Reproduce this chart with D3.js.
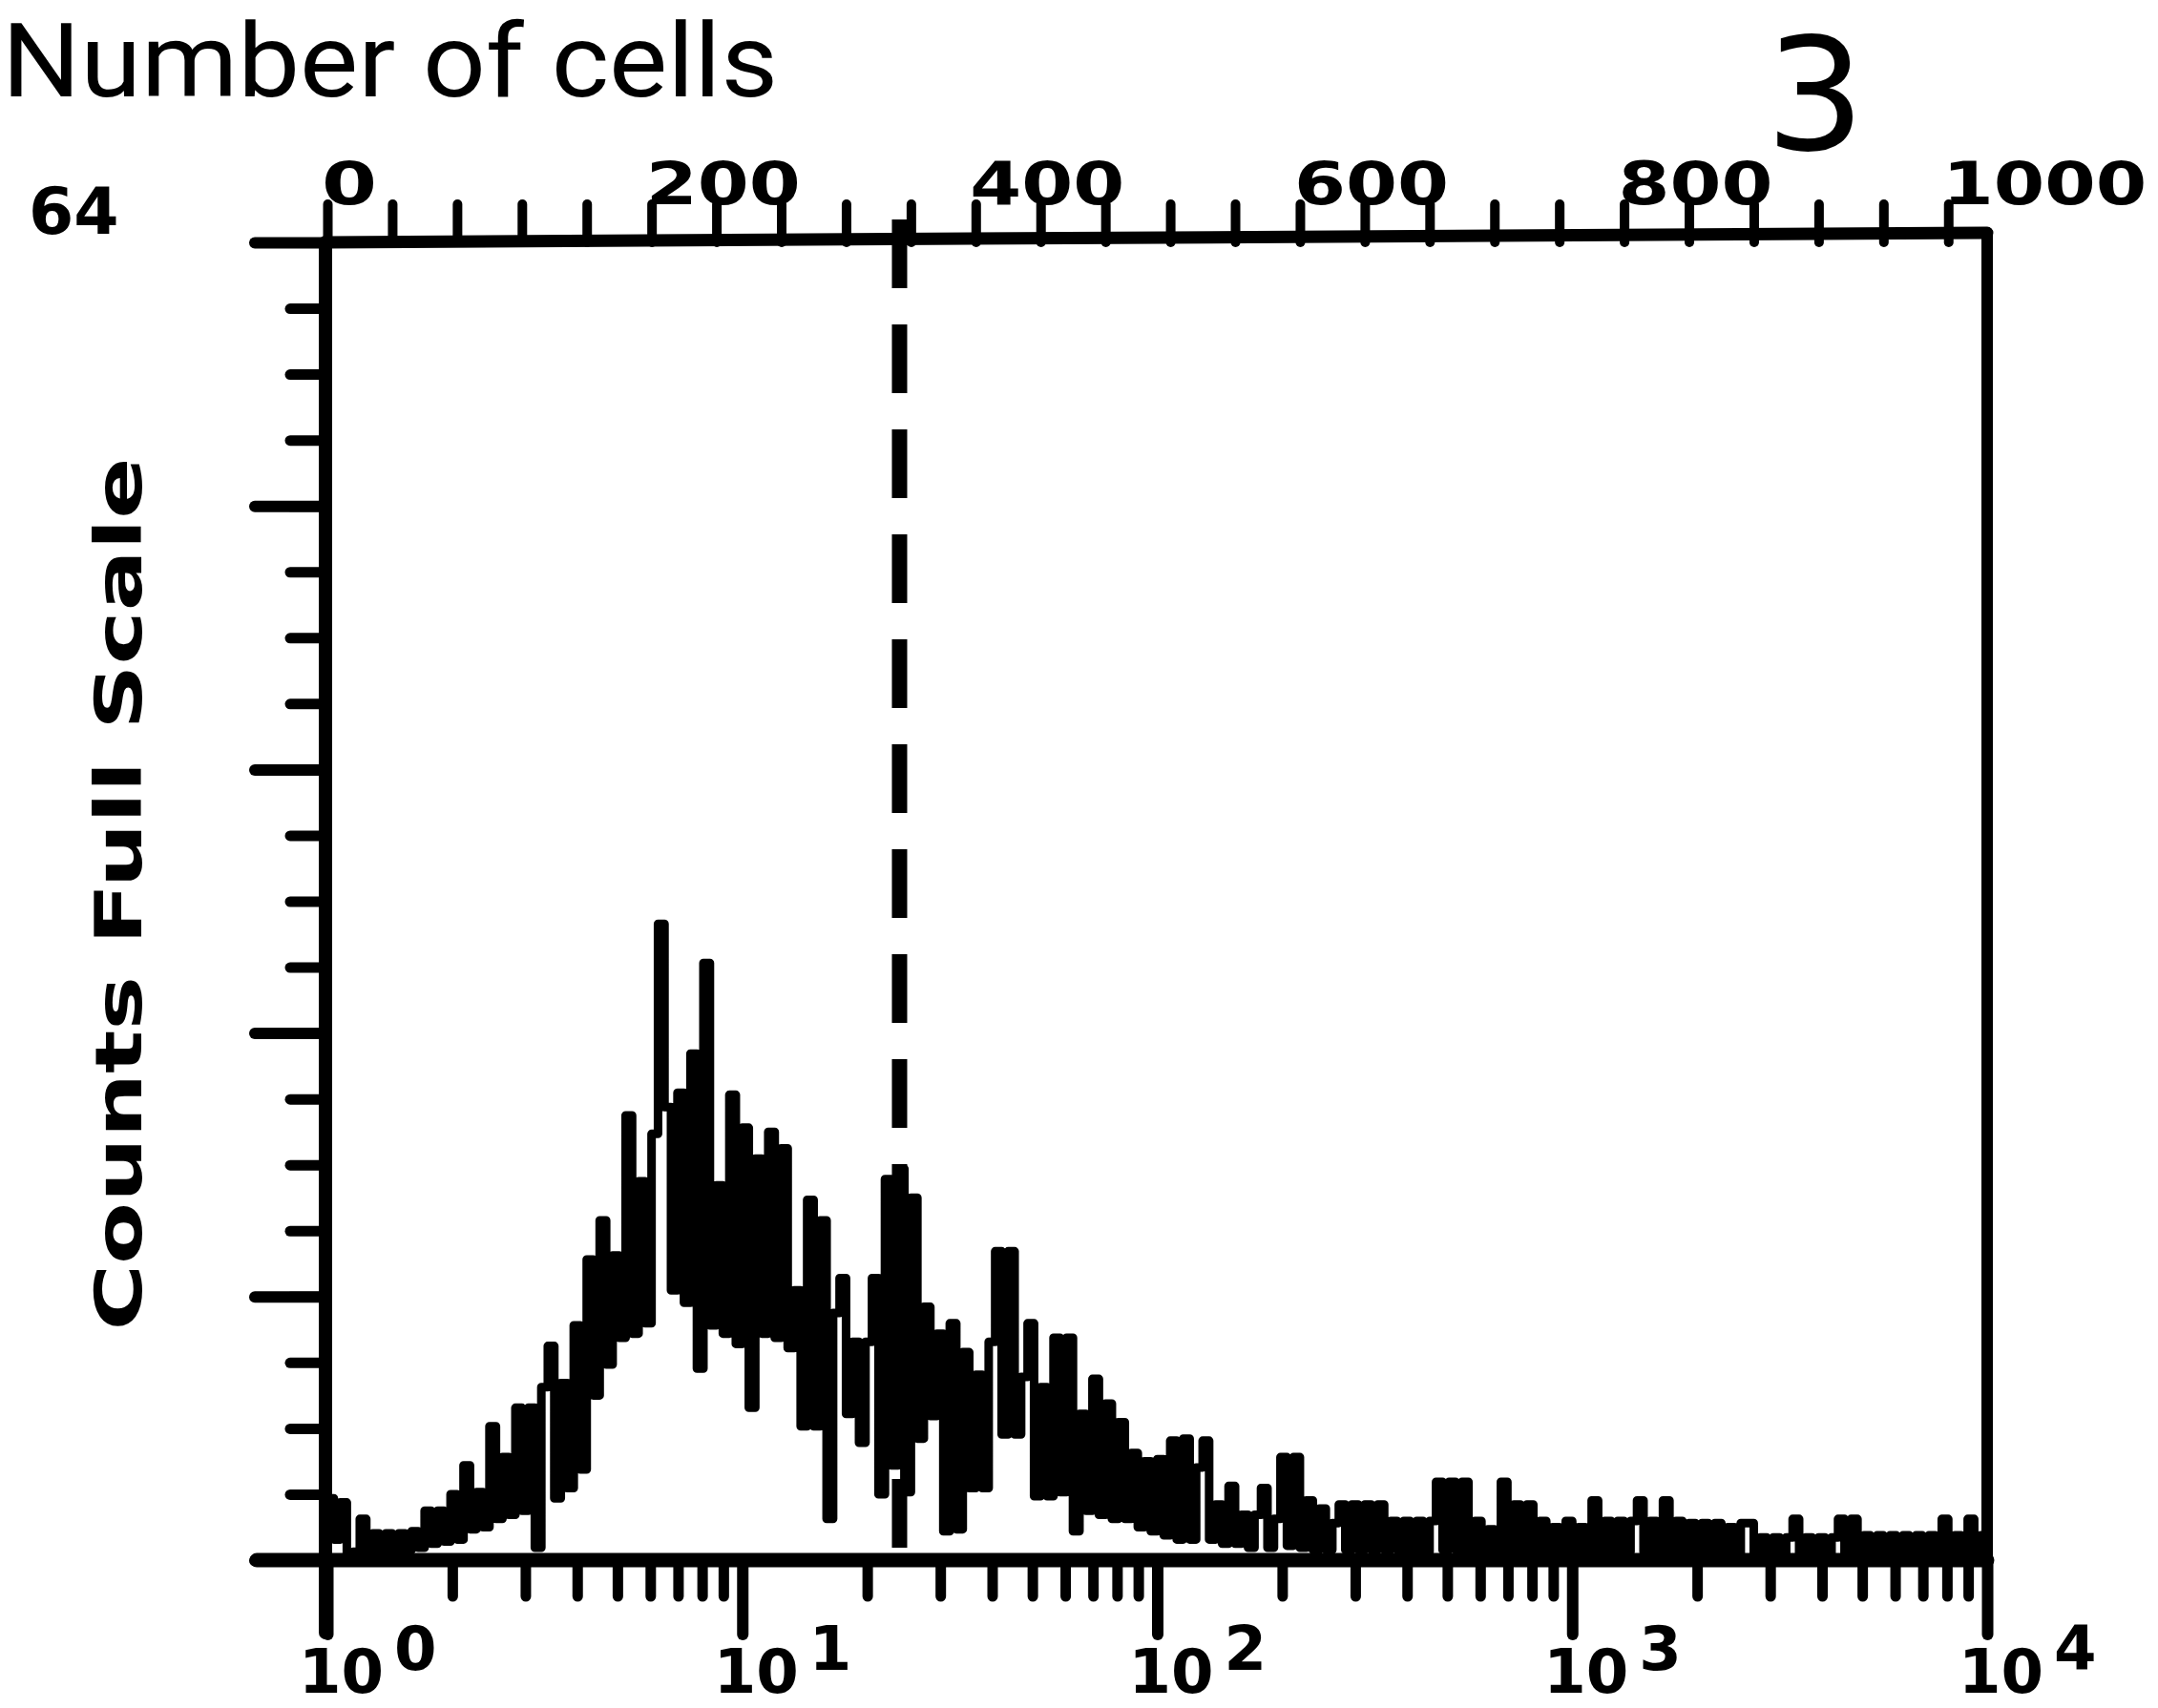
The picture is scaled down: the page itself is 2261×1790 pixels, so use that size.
<!DOCTYPE html>
<html>
<head>
<meta charset="utf-8">
<script src="https://cdn.jsdelivr.net/npm/d3@7"></script>
<style>
  html, body { margin: 0; padding: 0; background: #fff; }
  svg { display: block; }
</style>
</head>
<body>
<svg id="chart" width="2261" height="1790"></svg>
<script>
// counts per channel bin (one value every 4 channels, channel 0 .. 1020)
const channelStep = 4;
const counts = [
  3.0, 1.0, 2.8, 0.3, 0.4, 2.0, 0.4, 1.3, 0.4, 1.3,
  0.4, 1.3, 0.5, 1.4, 0.6, 2.4, 0.8, 2.4, 0.9, 3.2,
  1.0, 4.6, 1.5, 3.3, 1.6, 6.5, 2.0, 5.0, 2.2, 7.4,
  2.4, 7.4, 0.6, 8.4, 10.4, 3.0, 8.6, 3.5, 11.4, 4.4,
  14.6, 8.0, 16.5, 9.5, 14.8, 10.8, 21.6, 11.0, 18.4, 11.5,
  20.7, 30.9, 22.0, 13.1, 22.7, 12.5, 24.6, 9.3, 29.0, 11.4,
  18.2, 11.0, 22.6, 10.5, 21.0, 7.4, 19.5, 11.0, 20.8, 10.8,
  20.0, 10.3, 13.1, 6.5, 17.5, 6.5, 16.5, 2.0, 12.0, 13.7,
  7.1, 10.6, 5.7, 10.6, 13.7, 3.2, 18.5, 4.6, 19.0, 3.3,
  17.6, 5.9, 12.3, 7.0, 11.0, 1.4, 11.5, 1.5, 10.1, 3.5,
  9.0, 3.5, 10.6, 15.0, 6.1, 15.0, 6.1, 8.9, 11.5, 3.1,
  8.4, 3.1, 10.8, 3.3, 10.8, 1.4, 7.1, 2.4, 8.8, 2.2,
  7.6, 2.0, 6.7, 2.0, 5.2, 1.6, 4.8, 1.4, 4.9, 1.2,
  5.8, 1.0, 5.9, 1.0, 4.5, 5.8, 1.0, 2.7, 0.8, 3.6,
  0.8, 2.2, 0.6, 2.2, 3.5, 0.6, 2.0, 5.0, 0.7, 5.0,
  0.6, 2.9, 0.5, 2.5, 0.5, 1.8, 2.7, 0.5, 2.7, 0.5,
  2.7, 0.5, 2.7, 0.5, 1.9, 0.5, 1.9, 0.4, 1.9, 0.4,
  1.9, 3.8, 0.5, 3.8, 0.5, 3.8, 0.4, 1.9, 0.4, 1.5,
  0.4, 3.8, 0.5, 2.7, 0.4, 2.7, 0.4, 1.9, 0.4, 1.6,
  0.4, 1.9, 0.4, 1.6, 0.4, 2.9, 0.4, 1.9, 0.4, 1.9,
  0.4, 1.9, 2.9, 0.4, 1.9, 0.4, 2.9, 0.4, 1.9, 0.3,
  1.8, 0.3, 1.8, 0.3, 1.8, 0.3, 1.6, 0.3, 1.8, 1.8,
  0.3, 1.1, 0.3, 1.1, 0.3, 1.1, 2.0, 0.3, 1.1, 0.3,
  1.1, 0.3, 1.1, 2.0, 0.3, 2.0, 0.3, 1.2, 0.3, 1.2,
  0.3, 1.2, 0.3, 1.2, 0.3, 1.2, 0.3, 1.2, 0.3, 2.0,
  0.3, 1.2, 0.3, 2.0, 0.3, 1.2
];

const gateChannel = 353;          // dashed marker
const channelMax = 1024;
const countMax = 64;

const topTicks = d3.range(0, 1001, 40);
const topLabels = [0, 200, 400, 600, 800, 1000];
const yMinorTicks = d3.range(0, 20.5, 1).map(k => k * 3.2);
const yMajorTicks = [0, 12.8, 25.6, 38.4, 51.2, 64];
const decades = [0, 1, 2, 3, 4];
const logMinorTicks = [];
decades.slice(0, 4).forEach(e => {
  for (let m = 2; m <= 9; m++) logMinorTicks.push(m * Math.pow(10, e));
});

const titleText = "Number of cells";
const panelText = "3";
const yTitle = "Counts Full Scale";

const svg = d3.select("#chart");
svg.append("rect").attr("width", 2261).attr("height", 1790).attr("fill", "#fff");

const xChan = d3.scaleLinear().domain([0, channelMax]).range([343, 2082]);
const xLog = d3.scaleLog().domain([1, 10000]).range([343, 2082]);
const y = d3.scaleLinear().domain([0, countMax]).range([1635, 254]);

const plotFont = "'DejaVu Sans', sans-serif";

function styleAxis(g, width) {
  g.select(".domain").remove();
  g.selectAll(".tick line")
    .attr("stroke", "#000")
    .attr("stroke-width", width)
    .attr("stroke-linecap", "round");
  g.selectAll(".tick text").remove();
}

// left axis ticks
svg.append("g")
  .attr("transform", `translate(${xLog(1) - 2},0)`)
  .call(d3.axisLeft(y).tickValues(yMinorTicks).tickSize(37).tickFormat(""))
  .call(g => styleAxis(g, 11));
svg.append("g")
  .attr("transform", `translate(${xLog(1) - 2},0)`)
  .call(d3.axisLeft(y).tickValues(yMajorTicks).tickSize(74).tickFormat(""))
  .call(g => styleAxis(g, 12));

// bottom (log) axis ticks
svg.append("g")
  .attr("transform", `translate(0,${y(0)})`)
  .call(d3.axisBottom(xLog).tickValues(logMinorTicks).tickSize(38).tickFormat(""))
  .call(g => styleAxis(g, 11));
svg.append("g")
  .attr("transform", `translate(0,${y(0)})`)
  .call(d3.axisBottom(xLog).tickValues(decades.map(e => Math.pow(10, e))).tickSize(78).tickFormat(""))
  .call(g => styleAxis(g, 12));

// top (channel) axis ticks
svg.append("g")
  .attr("transform", `translate(0,${y(countMax)})`)
  .call(d3.axisTop(xChan).tickValues(topTicks).tickSize(40).tickFormat(""))
  .call(g => styleAxis(g, 10));

// frame
const frame = svg.append("g")
  .attr("stroke", "#000")
  .attr("stroke-linecap", "round")
  .attr("fill", "none");
frame.append("line")
  .attr("x1", xLog(1) - 2).attr("x2", xLog(1) - 2)
  .attr("y1", y(countMax)).attr("y2", y(0) + 76)
  .attr("stroke-width", 14);
frame.append("line")
  .attr("x1", xLog(1) - 2).attr("x2", xLog(10000))
  .attr("y1", y(countMax)).attr("y2", y(countMax) - 10)
  .attr("stroke-width", 13);
frame.append("line")
  .attr("x1", xLog(10000)).attr("x2", xLog(10000))
  .attr("y1", y(countMax) - 10).attr("y2", y(0))
  .attr("stroke-width", 12);
frame.append("line")
  .attr("x1", xLog(1) - 74).attr("x2", xLog(10000))
  .attr("y1", y(0)).attr("y2", y(0))
  .attr("stroke-width", 15);

// histogram
const histData = counts.map((c, i) => [i * channelStep, c]);
histData.push([channelMax, counts[counts.length - 1]]);
const line = d3.line()
  .x(d => xChan(d[0]))
  .y(d => y(d[1]))
  .curve(d3.curveStepAfter);
svg.append("path")
  .datum(histData)
  .attr("d", line)
  .attr("fill", "none")
  .attr("stroke", "#000")
  .attr("stroke-width", 9)
  .attr("stroke-linejoin", "round");

// gate marker
svg.append("line")
  .attr("x1", xChan(gateChannel)).attr("x2", xChan(gateChannel))
  .attr("y1", y(countMax) - 24).attr("y2", y(0) - 8)
  .attr("stroke", "#000")
  .attr("stroke-width", 16)
  .attr("stroke-dasharray", "72,38");

// top labels
svg.append("g")
  .selectAll("text")
  .data(topLabels)
  .join("text")
  .attr("x", d => xChan(d) - 6)
  .attr("y", y(countMax) - 40)
  .attr("font-family", plotFont)
  .attr("font-weight", "bold")
  .attr("font-size", 62)
  .attr("textLength", d => String(d).length * 52 + 6)
  .attr("lengthAdjust", "spacingAndGlyphs")
  .text(d => d);

// bottom labels 10^n
const bl = svg.append("g")
  .attr("font-family", plotFont)
  .attr("font-weight", "bold")
  .attr("font-size", 64);
bl.selectAll("text.base")
  .data(decades)
  .join("text")
  .attr("class", "base")
  .attr("x", d => xLog(Math.pow(10, d)) - 30)
  .attr("y", 1774)
  .text("10");
bl.selectAll("text.exp")
  .data(decades)
  .join("text")
  .attr("class", "exp")
  .attr("x", d => xLog(Math.pow(10, d)) + 70)
  .attr("y", 1750)
  .text(d => d);

// full-scale label
svg.append("text")
  .attr("x", 30)
  .attr("y", 245)
  .attr("font-family", plotFont)
  .attr("font-weight", "bold")
  .attr("font-size", 68)
  .text(countMax);

// y title
svg.append("text")
  .attr("transform", "translate(148,937) rotate(-90)")
  .attr("text-anchor", "middle")
  .attr("font-family", plotFont)
  .attr("font-weight", "bold")
  .attr("font-size", 68)
  .attr("textLength", 915)
  .attr("lengthAdjust", "spacingAndGlyphs")
  .text(yTitle);

// heading and panel number
svg.append("text")
  .attr("x", 2)
  .attr("y", 101)
  .attr("font-family", "Roboto, sans-serif")
  .attr("font-weight", 400)
  .attr("font-size", 108)
  .attr("textLength", 813)
  .attr("lengthAdjust", "spacingAndGlyphs")
  .text(titleText);

svg.append("text")
  .attr("x", 1902)
  .attr("y", 157)
  .attr("text-anchor", "middle")
  .attr("font-family", plotFont)
  .attr("font-size", 164)
  .text(panelText);
</script>
</body>
</html>
